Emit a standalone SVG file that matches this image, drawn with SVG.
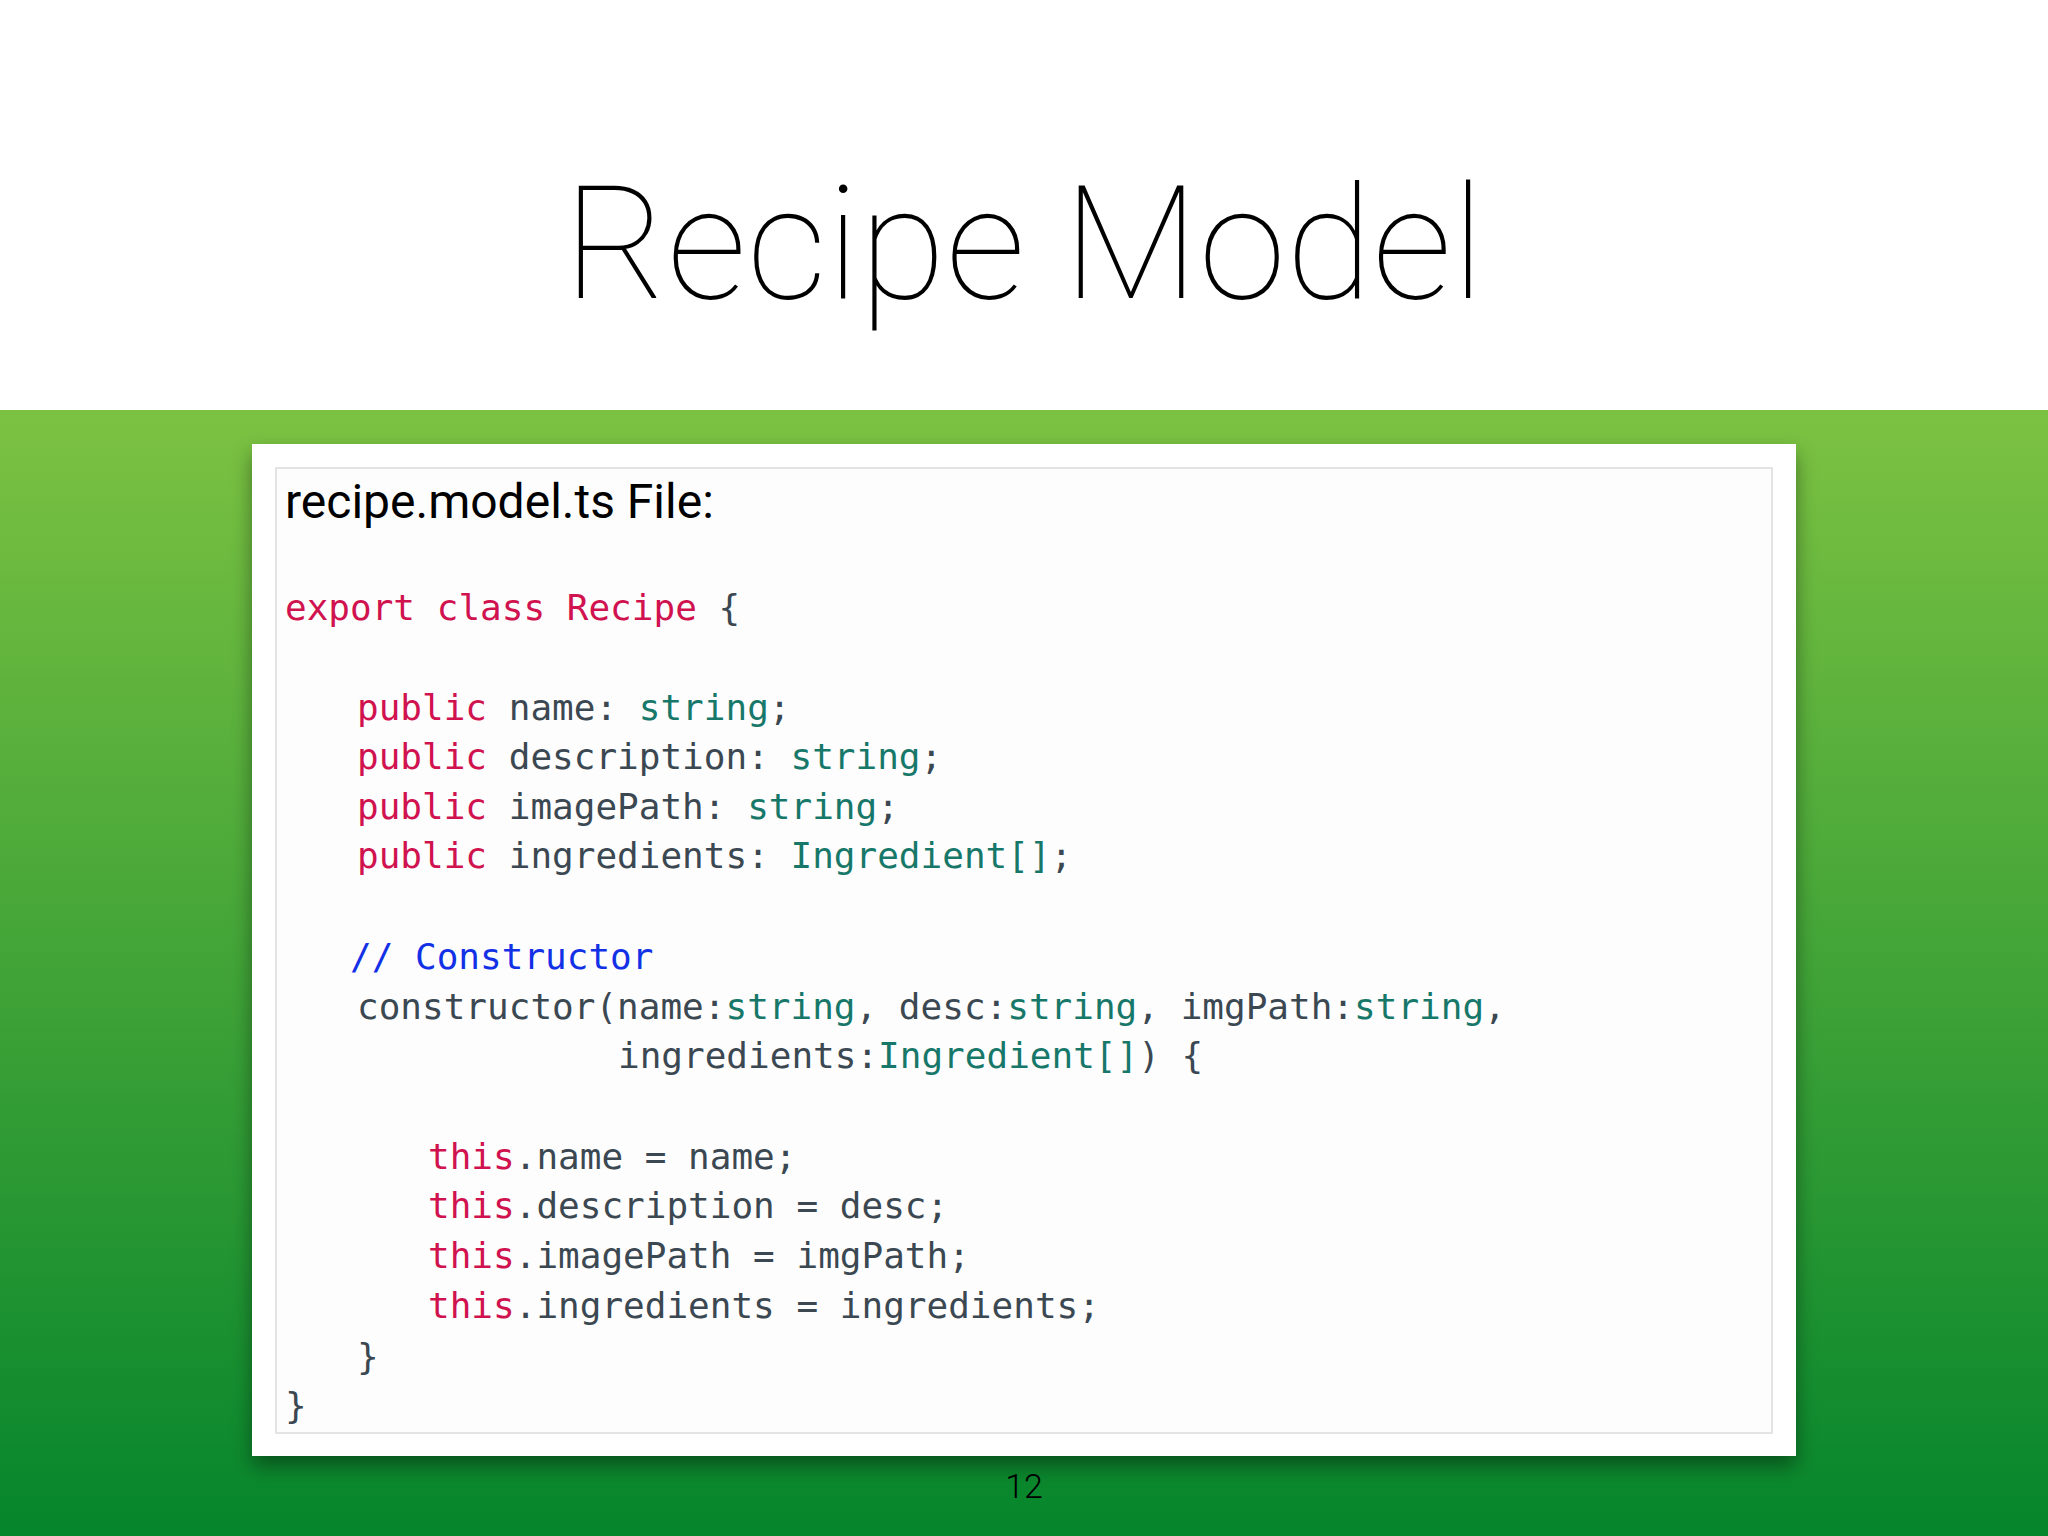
<svg xmlns="http://www.w3.org/2000/svg" width="2048" height="1536" viewBox="0 0 2048 1536">
<defs>
<linearGradient id="bg" x1="0" y1="0" x2="0" y2="1">
<stop offset="0" stop-color="#7cc242"/><stop offset="1" stop-color="#05852c"/>
</linearGradient>
<filter id="sh" x="-5%" y="-5%" width="110%" height="115%"><feDropShadow dx="0" dy="10" stdDeviation="10" flood-color="#000" flood-opacity="0.4"/></filter>
<style>
.code{font-family:"DejaVu Sans Mono","Liberation Mono",monospace;font-size:36px;fill:#3b4852;white-space:pre}
.k{fill:#d0124f}.t{fill:#17786a}.c{fill:#1230e6}
</style>
</defs>
<rect width="2048" height="1536" fill="#fff"/>
<rect y="410" width="2048" height="1126" fill="url(#bg)"/>
<text x="1024" y="298" text-anchor="middle" font-family="Roboto,'Liberation Sans',sans-serif" font-weight="100" font-size="158" fill="#000">Recipe Model</text>
<g id="card">
<rect x="252" y="444" width="1544" height="1012" fill="#fff" filter="url(#sh)"/>
<rect x="276" y="468" width="1496" height="965" fill="#fdfdfd" stroke="#e4e4e4" stroke-width="2"/>
<text x="285" y="518" font-family="Roboto,'Liberation Sans',sans-serif" font-size="48" fill="#000">recipe.model.ts File:</text>
<g class="code" xml:space="preserve">
<text x="285" y="620"><tspan class="k">export class Recipe</tspan> {</text>
<text x="357" y="720"><tspan class="k">public</tspan> name: <tspan class="t">string</tspan>;</text>
<text x="357" y="769"><tspan class="k">public</tspan> description: <tspan class="t">string</tspan>;</text>
<text x="357" y="819"><tspan class="k">public</tspan> imagePath: <tspan class="t">string</tspan>;</text>
<text x="357" y="868"><tspan class="k">public</tspan> ingredients: <tspan class="t">Ingredient[]</tspan>;</text>
<text x="350" y="969" class="c">// Constructor</text>
<text x="357" y="1019">constructor(name:<tspan class="t">string</tspan>, desc:<tspan class="t">string</tspan>, imgPath:<tspan class="t">string</tspan>,</text>
<text x="618" y="1068">ingredients:<tspan class="t">Ingredient[]</tspan>) {</text>
<text x="428" y="1169"><tspan class="k">this</tspan>.name = name;</text>
<text x="428" y="1218"><tspan class="k">this</tspan>.description = desc;</text>
<text x="428" y="1268"><tspan class="k">this</tspan>.imagePath = imgPath;</text>
<text x="428" y="1318"><tspan class="k">this</tspan>.ingredients = ingredients;</text>
<text x="357" y="1369">}</text>
<text x="285" y="1418">}</text>
</g>
</g>
<text x="1024" y="1498" text-anchor="middle" font-family="Roboto,'Liberation Sans',sans-serif" font-weight="300" font-size="34" fill="#000">12</text>
</svg>
